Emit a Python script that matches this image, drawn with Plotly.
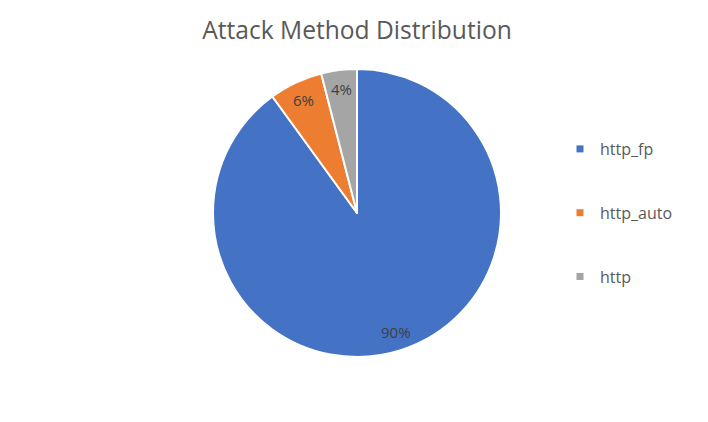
import math
import plotly.graph_objects as go

labels = ["http_fp", "http_auto", "http"]
values = [90, 6, 4]
colors = ["#4472C4", "#ED7D31", "#A5A5A5"]

W, H = 708, 422
# page body has an 8px margin, so layout positions are offset
OFF = 8
cx, cy, R = 357 - OFF, 213 - OFF, 144
dom_x = [(cx - R) / W, (cx + R) / W]
dom_y = [1 - (cy + R) / H, 1 - (cy - R) / H]

fig = go.Figure()
fig.add_trace(go.Pie(
    labels=labels, values=values, sort=False, direction="clockwise", rotation=0,
    marker=dict(colors=colors, line=dict(color="white", width=2)),
    textinfo="none", hoverinfo="label+percent",
    showlegend=False,
    domain=dict(x=dom_x, y=dom_y),
))
for lab, col in zip(labels, colors):
    fig.add_trace(go.Scatter(
        x=[None], y=[None], mode="markers", name=lab, legendgroup=lab,
        marker=dict(symbol="square", size=7, color=col),
    ))

# percent labels placed along each slice's mid-angle, near the rim (Excel style)
total = sum(values)
acc = 0
annotations = []
for v in values:
    mid = (acc + v / 2) / total * 2 * math.pi
    acc += v
    r = 0.87 * R
    px = cx + r * math.sin(mid)
    py = cy - r * math.cos(mid)
    annotations.append(dict(
        x=px / W, y=1 - py / H, xref="paper", yref="paper", showarrow=False,
        xanchor="center", yanchor="middle",
        text=f"{round(v / total * 100)}%",
        font=dict(family="Open Sans", size=15, color="#404040"),
    ))

fig.update_layout(
    width=W, height=H,
    margin=dict(l=0, r=0, t=0, b=0),
    paper_bgcolor="white", plot_bgcolor="white",
    title=dict(text="Attack Method Distribution", x=(357 - OFF) / W, xanchor="center",
               y=1 - (30 - OFF) / H, yanchor="middle",
               font=dict(family="Open Sans", size=24.6, color="#595959")),
    xaxis=dict(visible=False), yaxis=dict(visible=False),
    legend=dict(x=552 / W, y=1 - (213 - OFF) / H, xanchor="left", yanchor="middle",
                tracegroupgap=40, itemwidth=30,
                font=dict(family="Open Sans", size=16, color="#595959")),
    annotations=annotations,
)
fig.write_html("out.html")
